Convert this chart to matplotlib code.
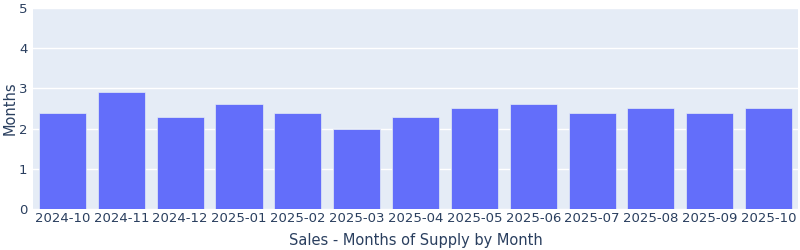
import matplotlib
matplotlib.use("Agg")
import matplotlib.pyplot as plt

months = ["2024-10", "2024-11", "2024-12", "2025-01", "2025-02", "2025-03", "2025-04",
          "2025-05", "2025-06", "2025-07", "2025-08", "2025-09", "2025-10"]
supply = [2.4, 2.9, 2.3, 2.6, 2.4, 2.0, 2.3, 2.5, 2.6, 2.4, 2.5, 2.4, 2.5]
y_ticks = [0, 1, 2, 3, 4, 5]

plt.rcParams['font.family'] = ['DejaVu Sans']
text_color = '#2a3f5f'

fig = plt.figure(figsize=(8, 2.5), dpi=100)
ax = fig.add_axes([33/800, 41/250, 765/800, 201/250])
ax.set_facecolor('#E5ECF6')
x = list(range(len(months)))
ax.bar(x, supply, width=0.8, color='#636efa', edgecolor='#E5ECF6', linewidth=0.5, zorder=3)
ax.set_xlim(-0.5, len(months) - 0.5)
ax.set_ylim(0, 5)
ax.set_yticks(y_ticks)
ax.set_xticks(x)
ax.set_xticklabels(months)
ax.grid(axis='y', color='white', linewidth=1, zorder=0)
ax.set_axisbelow(True)
for s in ax.spines.values():
    s.set_visible(False)
ax.tick_params(axis='both', length=0, labelsize=9.5, colors=text_color, pad=2)
ax.tick_params(axis='y', pad=4)
ax.set_ylabel('Months', fontsize=10.5, color=text_color)
ax.yaxis.set_label_coords(-23/765, 0.5)
ax.set_xlabel('Sales - Months of Supply by Month', fontsize=10.5, color=text_color)
ax.xaxis.set_label_coords(0.5, -32/201)
ax.xaxis.label.set_va('center')
ax.yaxis.label.set_va('center')
fig.savefig('out.png', dpi=100, facecolor='white')
